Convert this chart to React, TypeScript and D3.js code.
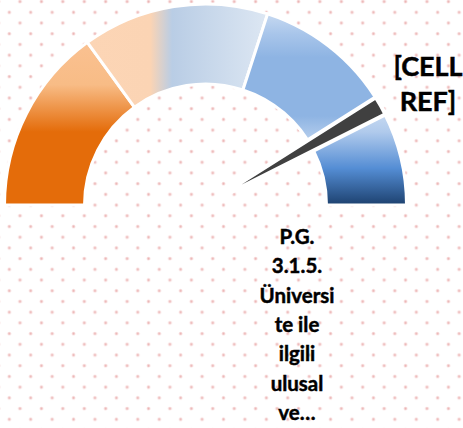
import React from 'react';
import * as d3 from 'd3';

// ---- data ----
const bandNames = ['Band 1', 'Band 2', 'Band 3', 'Band 4'];
const bandValues = [30, 30, 25, 15]; // share of the half dial (percent)
const needleStart = 82.05; // percent of dial where the needle slice starts
const needleWidth = 3.1; // percent width of needle slice
const valueLabelLines = ['[CELL', 'REF]'];
const categoryLabelLines = ['P.G.', '3.1.5.', 'Üniversi', 'te ile', 'ilgili', 'ulusal', 've…'];

const W = 463;
const H = 428;
const cx = 205.5;
const cy = 205;
const outerR = 201;
const innerR = 121;

const gradients = [
  { id: 'g0', x2: 0, y2: 1, stops: [[0, '#fac191'], [0.26, '#f8bc86'], [0.55, '#e46c0a'], [1, '#e46c0a']] },
  { id: 'g1', x2: 1, y2: 0, stops: [[0, '#fcd5b5'], [0.35, '#fbd4b4'], [0.47, '#b9cde5'], [1, '#dde7f3']] },
  { id: 'g2', x2: 0, y2: 1, stops: [[0, '#c6d9f1'], [0.15, '#a8c5ea'], [0.32, '#8eb4e3'], [0.75, '#8eb4e3'], [1, '#c6d9f1']] },
  { id: 'g3', x2: 0, y2: 1, stops: [[0, '#c6d9f1'], [0.2, '#b0caec'], [0.6, '#548dd4'], [1, '#1d416f']] },
];

const dotCenters = [
  [9.3, 12.3],
  [20.0, 1.6],
  [-1.42, 1.6],
  [20.0, 23.02],
  [-1.42, 23.02],
];

export default function App() {
  const pie = d3
    .pie<number>()
    .sort(null)
    .value((d) => d)
    .startAngle(-Math.PI / 2)
    .endAngle(Math.PI / 2);
  const bandArcs = pie(bandValues);
  const arc = d3.arc<d3.PieArcDatum<number>>().innerRadius(innerR).outerRadius(outerR);

  const needleArcs = pie([needleStart, needleWidth, 100 - needleStart - needleWidth]);
  const needleArc = d3.arc<d3.PieArcDatum<number>>().innerRadius(0).outerRadius(outerR + 0.5);

  const lineY = d3.scaleLinear().domain([0, 1]).range([244, 273.3]);
  const valY = d3.scaleLinear().domain([0, 1]).range([76, 111]);

  return (
    <svg
      width={W}
      height={H}
      viewBox={`0 0 ${W} ${H}`}
      style={{ position: 'absolute', left: 0, top: 0, display: 'block' }}
    >
      <defs>
        <pattern id="dots" width={21.42} height={21.42} patternUnits="userSpaceOnUse">
          {dotCenters.map(([x, y], i) => (
            <g key={i}>
              <circle cx={x} cy={y} r={1.9} fill="#f8e0e0" />
              <circle cx={x} cy={y} r={1.0} fill="#ecb4b4" />
            </g>
          ))}
        </pattern>
        {gradients.map((g) => (
          <linearGradient key={g.id} id={g.id} x1={0} y1={0} x2={g.x2} y2={g.y2}>
            {g.stops.map(([o, c], i) => (
              <stop key={i} offset={o as number} stopColor={c as string} />
            ))}
          </linearGradient>
        ))}
      </defs>
      <rect x={0} y={0} width={W} height={H} fill="#ffffff" />
      <rect x={0} y={0} width={W} height={H} fill="url(#dots)" />
      <g transform={`translate(${cx},${cy})`}>
        {bandArcs.map((a, i) => (
          <path
            key={bandNames[i]}
            d={arc(a) || ''}
            fill={`url(#${gradients[i].id})`}
            stroke="#ffffff"
            strokeWidth={3}
            strokeLinejoin="miter"
          />
        ))}
        <path
          d={needleArc(needleArcs[1]) || ''}
          fill="#404040"
          stroke="#ffffff"
          strokeWidth={4}
          strokeLinejoin="miter"
        />
      </g>
      <g
        fontFamily="Lato, 'Open Sans', sans-serif"
        fontWeight={700}
        fill="#000000"
        stroke="#000000"
        strokeWidth={0.45}
        textAnchor="middle"
      >
        {valueLabelLines.map((t, i) => (
          <text key={t} x={428} y={valY(i)} fontSize={27}>
            {t}
          </text>
        ))}
        {categoryLabelLines.map((t, i) => (
          <text key={t} x={297} y={lineY(i)} fontSize={20.5}>
            {t}
          </text>
        ))}
      </g>
    </svg>
  );
}
